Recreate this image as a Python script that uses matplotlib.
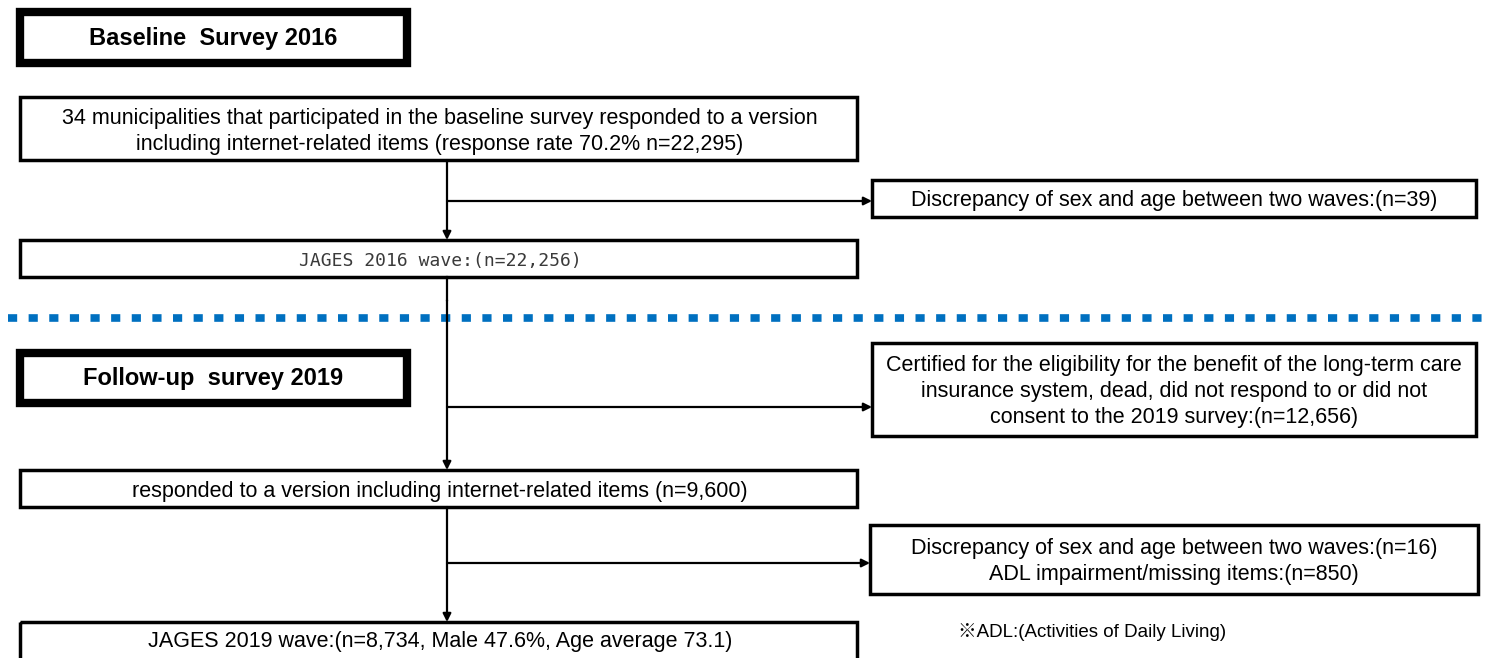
import matplotlib.pyplot as plt
from matplotlib.patches import Rectangle

# box texts of the flow diagram
headers = ['Baseline  Survey 2016', 'Follow-up  survey 2019']
main_texts = [
    '34 municipalities that participated in the baseline survey responded to a version\n'
    'including internet-related items (response rate 70.2% n=22,295)',
    'JAGES 2016 wave:(n=22,256)',
    'responded to a version including internet-related items (n=9,600)',
    'JAGES 2019 wave:(n=8,734, Male 47.6%, Age average 73.1)',
]
excl_texts = [
    'Discrepancy of sex and age between two waves:(n=39)',
    'Certified for the eligibility for the benefit of the long-term care\n'
    'insurance system, dead, did not respond to or did not\n'
    'consent to the 2019 survey:(n=12,656)',
    'Discrepancy of sex and age between two waves:(n=16)\n'
    'ADL impairment/missing items:(n=850)',
]
note = '※ADL:(Activities of Daily Living)'

W, H = 1488, 658
fig = plt.figure(figsize=(W / 100, H / 100), dpi=100)
ax = fig.add_axes([0, 0, 1, 1])
ax.set_xlim(0, W)
ax.set_ylim(H, 0)
ax.axis('off')

FONT = ['Liberation Sans', 'DejaVu Sans']


def box(x0, y0, x1, y1, lw=2.5):
    ax.add_patch(Rectangle((x0, y0), x1 - x0, y1 - y0, fill=False,
                           edgecolor='black', linewidth=lw, joinstyle='miter'))


def arrow(x0, y0, x1, y1):
    ax.annotate('', xy=(x1, y1), xytext=(x0, y0),
                arrowprops=dict(arrowstyle='-|>', color='black', lw=1.6,
                                mutation_scale=12, shrinkA=0, shrinkB=0))


# headers
for (y0, y1), txt in zip([(12, 63), (353, 403)], headers):
    box(20, y0, 407, y1, lw=6)
    ax.text(213, (y0 + y1) / 2 + 1, txt, ha='center', va='center',
            fontsize=17, fontweight='bold', family=FONT)

# main column boxes
main_boxes = [(97, 160), (240, 277), (470, 507), (622, 662)]
for (y0, y1), txt in zip(main_boxes, main_texts):
    box(20, y0, 857, y1)
    ty = (y0 + y1) / 2 + 3 if y1 < 660 else 642
    if txt.startswith('JAGES 2016'):
        ax.text(440, ty, txt, ha='center', va='center', fontsize=13,
                family='DejaVu Sans Mono', color='#3a3a3a')
    else:
        ax.text(440, ty, txt, ha='center', va='center', fontsize=15.5,
                family=FONT, linespacing=1.3)

# exclusion boxes
excl_boxes = [(872, 180, 1476, 217), (872, 343, 1476, 436), (870, 525, 1478, 594)]
for (x0, y0, x1, y1), txt in zip(excl_boxes, excl_texts):
    box(x0, y0, x1, y1)
    ax.text((x0 + x1) / 2, (y0 + y1) / 2 + 2, txt, ha='center', va='center',
            fontsize=15.5, family=FONT, linespacing=1.3)

# connectors
xc = 447
arrow(xc, 160, xc, 240)
arrow(xc, 201, 872, 201)
ax.plot([xc, xc], [277, 300], color='black', lw=1.6)
arrow(xc, 300, xc, 470)
arrow(xc, 407, 872, 407)
arrow(xc, 507, xc, 622)
arrow(xc, 563, 870, 563)

# wave separator
ax.plot([8, 1482], [318, 318], color='#0070C0', lw=5.5,
        linestyle=(0, (1.2, 1.5)), solid_capstyle='butt', dash_capstyle='butt')

ax.text(958, 632, note, ha='left', va='center', fontsize=13.5,
        family=['Liberation Sans', 'Noto Sans CJK JP', 'DejaVu Sans'])

fig.savefig('out.png', dpi=100)
